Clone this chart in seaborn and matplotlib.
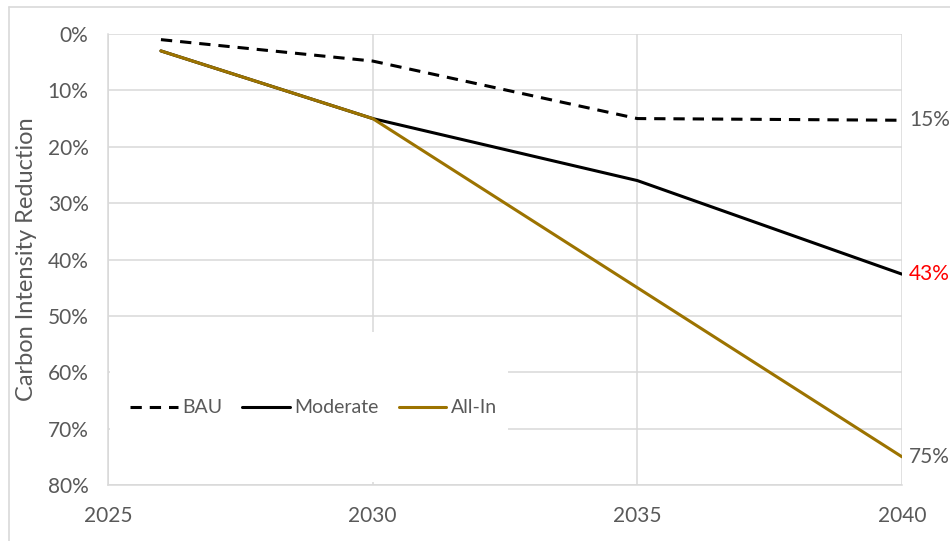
import matplotlib
matplotlib.use("Agg")
import matplotlib.pyplot as plt
from matplotlib.patches import Rectangle
from matplotlib.lines import Line2D
import numpy as np
import pandas as pd
import seaborn as sns

# Scenario data: carbon intensity reduction (%) by year
years = [2026, 2030, 2035, 2040]
bau = [1.0, 4.8, 15.0, 15.3]
moderate = [3.0, 15.0, 26.0, 42.6]
all_in = [3.0, 15.0, 45.0, 75.0]

scenarios = ["BAU", "Moderate", "All-In"]
x_ticks = [2025, 2030, 2035, 2040]
y_ticks = [0, 10, 20, 30, 40, 50, 60, 70, 80]

df = pd.DataFrame({
    "Year": years * 3,
    "Reduction": bau + moderate + all_in,
    "Scenario": [s for s in scenarios for _ in years],
})

TEXT = "#595959"
GRID = "#D9D9D9"
GOLD = "#9C7300"

sns.set_theme(style="white")
plt.rcParams["font.family"] = ["Lato", "DejaVu Sans"]

fig = plt.figure(figsize=(9.5, 5.41), dpi=100)
ax = fig.add_axes([108 / 950, 1 - 485 / 541, 794 / 950, 451 / 541])

palette = {"BAU": "black", "Moderate": "black", "All-In": GOLD}
dashes = {"BAU": (3.7, 2.6), "Moderate": "", "All-In": ""}
sns.lineplot(data=df, x="Year", y="Reduction", hue="Scenario", style="Scenario",
             palette=palette, dashes=dashes, linewidth=2.2, ax=ax,
             hue_order=scenarios, style_order=scenarios, legend=False, zorder=3)

ax.set_xlim(2025, 2040)
ax.set_ylim(80, 0)
ax.set_xticks(x_ticks)
ax.set_yticks(y_ticks)
ax.set_yticklabels([f"{v}%" for v in y_ticks])
ax.tick_params(axis="both", colors=TEXT, labelsize=15, length=0)
ax.tick_params(axis="y", pad=14)
ax.tick_params(axis="x", pad=15)
ax.grid(True, color=GRID, linewidth=1.1, zorder=0)
ax.set_axisbelow(True)
for side in ["top", "right"]:
    ax.spines[side].set_visible(False)
for side in ["left", "bottom"]:
    ax.spines[side].set_color(GRID)
    ax.spines[side].set_linewidth(1.1)
ax.set_xlabel("")
ax.set_ylabel("Carbon Intensity Reduction", color=TEXT, fontsize=17, labelpad=8)

# white backdrop behind the legend area
ax.add_patch(Rectangle((0.003, 0.007), 0.501, 0.332, transform=ax.transAxes,
                       facecolor="white", edgecolor="none", zorder=1))

handles = [
    Line2D([], [], color="black", lw=2.2, dashes=dashes["BAU"]),
    Line2D([], [], color="black", lw=2.2),
    Line2D([], [], color=GOLD, lw=2.2),
]
leg = ax.legend(handles, scenarios, ncol=3, loc="center", bbox_to_anchor=(0.259, 0.171),
                frameon=False, fontsize=14, handlelength=2.45, handletextpad=0.25,
                columnspacing=1.0, labelcolor=TEXT)
leg.set_zorder(4)

# end-of-line value labels
end_vals = [bau[-1], moderate[-1], all_in[-1]]
end_cols = [TEXT, "#FF0000", TEXT]
for v, c in zip(end_vals, end_cols):
    ax.annotate(f"{v:.0f}%", xy=(years[-1], v), xytext=(5, 0), textcoords="offset points",
                ha="left", va="center", color=c, fontsize=15, annotation_clip=False)

# chart frame
fig.add_artist(Line2D([8.5 / 950, 8.5 / 950], [0, 1 - 6.5 / 541], transform=fig.transFigure,
                      color=GRID, lw=1.2))
fig.add_artist(Line2D([8.5 / 950, 1], [1 - 6.5 / 541, 1 - 6.5 / 541], transform=fig.transFigure,
                      color=GRID, lw=1.2))

fig.savefig("out.png", dpi=100, facecolor="white")
